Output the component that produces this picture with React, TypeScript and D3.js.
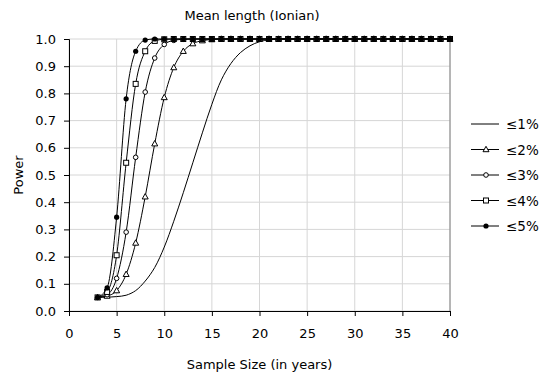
import { useEffect, useRef } from 'react'
import * as d3 from 'd3'

// sample sizes (years) on the x axis
const sampleSizes = [3, 4, 5, 6, 7, 8, 9, 10, 11, 12, 13, 14, 15, 16, 17, 18, 19, 20, 21, 22,
  23, 24, 25, 26, 27, 28, 29, 30, 31, 32, 33, 34, 35, 36, 37, 38, 39, 40]

// power curves, one per threshold
const power1 = [0.05, 0.051, 0.053, 0.058, 0.075, 0.11, 0.16, 0.235, 0.33, 0.435, 0.545, 0.655, 0.76, 0.85,
  0.91, 0.95, 0.975, 0.99, 0.997, 1, 1, 1, 1, 1, 1, 1, 1, 1, 1, 1, 1, 1, 1, 1, 1, 1, 1, 1]
const power2 = [0.05, 0.055, 0.075, 0.135, 0.25, 0.42, 0.615, 0.785, 0.895, 0.955, 0.983, 0.994, 0.998,
  1, 1, 1, 1, 1, 1, 1, 1, 1, 1, 1, 1, 1, 1, 1, 1, 1, 1, 1, 1, 1, 1, 1, 1, 1]
const power3 = [0.05, 0.06, 0.12, 0.29, 0.565, 0.805, 0.93, 0.98, 0.995, 0.999, 1, 1, 1, 1, 1, 1, 1, 1,
  1, 1, 1, 1, 1, 1, 1, 1, 1, 1, 1, 1, 1, 1, 1, 1, 1, 1, 1, 1]
const power4 = [0.05, 0.07, 0.205, 0.545, 0.835, 0.955, 0.993, 0.999, 1, 1, 1, 1, 1, 1, 1, 1, 1, 1, 1,
  1, 1, 1, 1, 1, 1, 1, 1, 1, 1, 1, 1, 1, 1, 1, 1, 1, 1, 1]
const power5 = [0.05, 0.085, 0.345, 0.78, 0.955, 0.996, 1, 1, 1, 1, 1, 1, 1, 1, 1, 1, 1, 1, 1, 1,
  1, 1, 1, 1, 1, 1, 1, 1, 1, 1, 1, 1, 1, 1, 1, 1, 1, 1]

const seriesLabels = ['≤1%', '≤2%', '≤3%', '≤4%', '≤5%']
const seriesValues = [power1, power2, power3, power4, power5]
type Marker = 'none' | 'triangle' | 'circle' | 'square' | 'dot'
const seriesMarkers: Marker[] = ['none', 'triangle', 'circle', 'square', 'dot']

const xTicks = [0, 5, 10, 15, 20, 25, 30, 35, 40]
const yTicks = [0, 0.1, 0.2, 0.3, 0.4, 0.5, 0.6, 0.7, 0.8, 0.9, 1.0]

const FONT = '"DejaVu Sans", Verdana, sans-serif'

function drawMarker(g: d3.Selection<SVGGElement, unknown, null, undefined>, kind: Marker, x: number, y: number) {
  if (kind === 'triangle') {
    g.append('path')
      .attr('d', `M${x},${y - 3.2}L${x + 3},${y + 2.2}L${x - 3},${y + 2.2}Z`)
      .attr('fill', '#fff').attr('stroke', '#000').attr('stroke-width', 1)
  } else if (kind === 'circle') {
    g.append('circle').attr('cx', x).attr('cy', y).attr('r', 2.3)
      .attr('fill', '#fff').attr('stroke', '#000').attr('stroke-width', 1)
  } else if (kind === 'square') {
    g.append('rect').attr('x', x - 2.5).attr('y', y - 2.5).attr('width', 5).attr('height', 5)
      .attr('fill', '#fff').attr('stroke', '#000').attr('stroke-width', 1)
  } else if (kind === 'dot') {
    g.append('circle').attr('cx', x).attr('cy', y).attr('r', 2.6).attr('fill', '#000')
  }
}

export default function App() {
  const svgRef = useRef<SVGSVGElement>(null)

  useEffect(() => {
    document.body.style.margin = '0'
    const svgEl = svgRef.current
    if (!svgEl) return
    const root = d3.select(svgEl)
    root.selectAll('*').remove()

    const left = 69, right = 450, top = 39, bottom = 311
    const x = d3.scaleLinear().domain([0, 40]).range([left, right])
    const y = d3.scaleLinear().domain([0, 1]).range([bottom, top])

    const g = root.append('g')

    // gridlines
    yTicks.forEach(t => {
      g.append('line').attr('x1', left).attr('x2', right).attr('y1', y(t)).attr('y2', y(t))
        .attr('stroke', '#d6d6d6').attr('stroke-width', 1)
    })
    xTicks.forEach(t => {
      g.append('line').attr('x1', x(t)).attr('x2', x(t)).attr('y1', top).attr('y2', bottom)
        .attr('stroke', '#d6d6d6').attr('stroke-width', 1)
    })
    // right border of the plot area
    g.append('line').attr('x1', right).attr('x2', right).attr('y1', top).attr('y2', bottom)
      .attr('stroke', '#808080').attr('stroke-width', 1)

    // axes
    g.append('g')
      .attr('transform', `translate(0,${bottom})`)
      .call(d3.axisBottom(x).tickValues(xTicks).tickSize(5).tickPadding(13).tickFormat(d3.format('d')))
      .call(ax => {
        ax.select('.domain').attr('stroke', '#000')
        ax.selectAll('.tick line').attr('stroke', '#000')
        ax.selectAll('.tick text').attr('font-family', FONT).attr('font-size', 13).attr('fill', '#000')
      })
    g.append('g')
      .attr('transform', `translate(${left},0)`)
      .call(d3.axisLeft(y).tickValues(yTicks).tickSize(5).tickPadding(8).tickFormat(d3.format('.1f')))
      .call(ax => {
        ax.select('.domain').attr('stroke', '#000')
        ax.selectAll('.tick line').attr('stroke', '#000')
        ax.selectAll('.tick text').attr('font-family', FONT).attr('font-size', 13).attr('fill', '#000')
      })

    // series: the plain ≤1% line is smoothed like the original, the marker series use monotone
    seriesValues.forEach((vals, si) => {
      const line = d3.line<number>()
        .x((_, i) => x(sampleSizes[i]))
        .y(v => y(v))
        .curve(si === 0 ? d3.curveCatmullRom.alpha(0.5) : d3.curveMonotoneX)
      const sg = g.append('g')
      sg.append('path').attr('d', line(vals) ?? '')
        .attr('fill', 'none').attr('stroke', '#000').attr('stroke-width', 1)
      vals.forEach((v, i) => drawMarker(sg, seriesMarkers[si], x(sampleSizes[i]), y(v)))
    })

    // titles
    root.append('text').attr('x', 252).attr('y', 20).attr('text-anchor', 'middle')
      .attr('font-family', FONT).attr('font-size', 13).text('Mean length (Ionian)')
    root.append('text').attr('x', (left + right) / 2).attr('y', 369).attr('text-anchor', 'middle')
      .attr('font-family', FONT).attr('font-size', 13).text('Sample Size (in years)')
    root.append('text').attr('transform', `translate(23,${(top + bottom) / 2}) rotate(-90)`)
      .attr('text-anchor', 'middle')
      .attr('font-family', FONT).attr('font-size', 13).text('Power')

    // legend
    const legY = d3.scalePoint<string>().domain(seriesLabels).range([124, 226])
    seriesLabels.forEach((lab, si) => {
      const ly = legY(lab) ?? 0
      const lg = root.append('g')
      lg.append('line').attr('x1', 471).attr('x2', 499).attr('y1', ly).attr('y2', ly)
        .attr('stroke', '#000').attr('stroke-width', 1)
      drawMarker(lg, seriesMarkers[si], 486, ly)
      lg.append('text').attr('x', 506).attr('y', ly + 5)
        .attr('font-family', FONT).attr('font-size', 13.5).text(lab)
    })
  }, [])

  return <svg ref={svgRef} width={545} height={376} style={{ display: 'block', background: '#fff' }} />
}
